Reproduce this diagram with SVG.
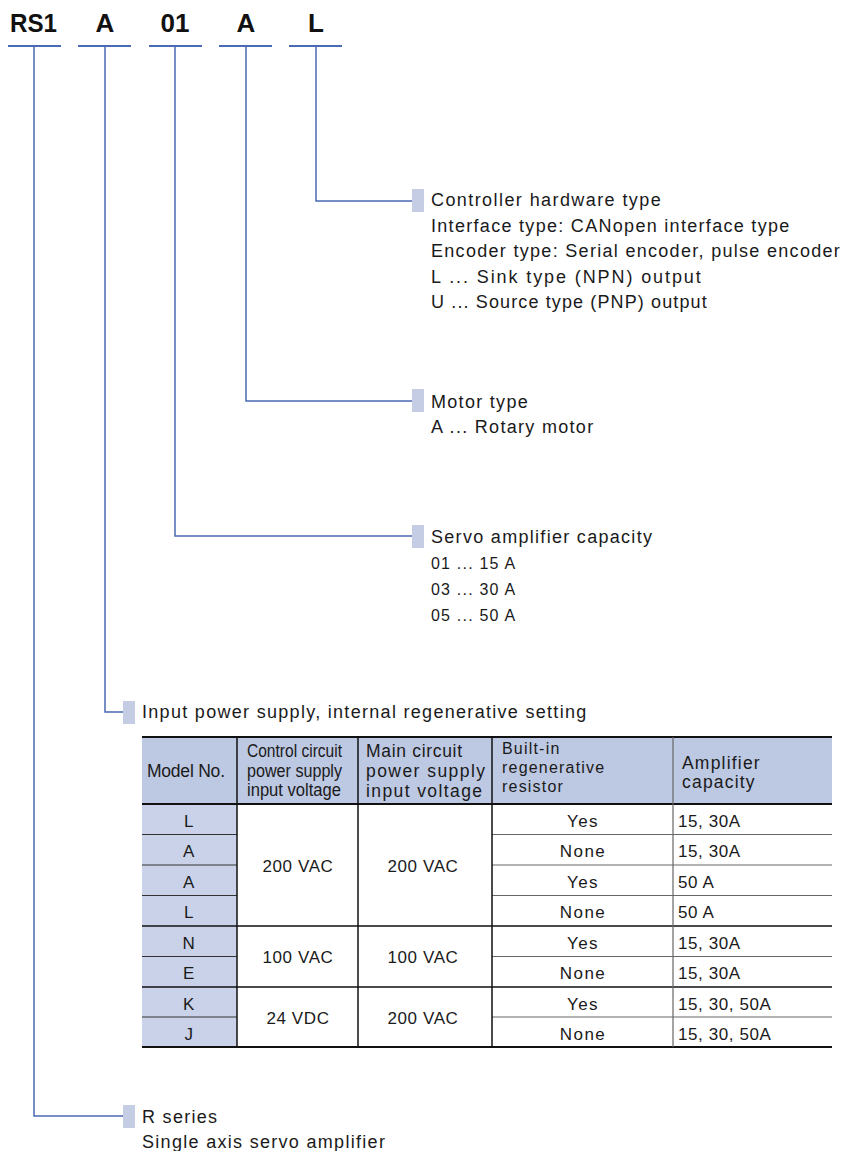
<svg xmlns="http://www.w3.org/2000/svg" width="843" height="1151" viewBox="0 0 843 1151">
<style>
.code{font-family:"Liberation Sans",Arial,sans-serif;font-weight:bold;font-size:26px;fill:#111;}
.t{font-family:"Liberation Sans",Arial,sans-serif;font-size:18px;fill:#1a1a1a;letter-spacing:1.3px;}
.n{font-family:"Liberation Sans",Arial,sans-serif;font-size:16px;fill:#1a1a1a;letter-spacing:1.2px;}
.h{font-family:"Liberation Sans",Arial,sans-serif;font-size:17.5px;fill:#1a1a1a;}
.hs{font-family:"Liberation Sans",Arial,sans-serif;font-size:16px;fill:#1a1a1a;letter-spacing:1.2px;}
.c{font-family:"Liberation Sans",Arial,sans-serif;font-size:17px;fill:#1a1a1a;letter-spacing:0.6px;}
.cm{text-anchor:middle;}
.ul{stroke:#4a6ab3;stroke-width:2;}
.con{fill:none;stroke:#4a6ab3;stroke-width:1.5;}
.sq{fill:#c4cde4;}
.hd{fill:#bdc8e2;}
.mc{fill:#c9d2e9;}
.bk{stroke:#111;stroke-width:1.5;}
.bk2{stroke:#111;stroke-width:2;}
.gr{stroke:#666;stroke-width:1.2;}
.dg{stroke:#333;stroke-width:1.2;}
</style>

<g id="code">
<text class="code" x="10" y="32" textLength="47" lengthAdjust="spacingAndGlyphs">RS1</text>
<text class="code cm" x="105" y="32">A</text>
<text class="code cm" x="175" y="32">01</text>
<text class="code cm" x="246" y="32">A</text>
<text class="code cm" x="316" y="32">L</text>
<line class="ul" x1="8" y1="46" x2="61" y2="46"/>
<line class="ul" x1="78" y1="46" x2="131" y2="46"/>
<line class="ul" x1="149" y1="46" x2="202" y2="46"/>
<line class="ul" x1="219" y1="46" x2="272" y2="46"/>
<line class="ul" x1="289" y1="46" x2="342" y2="46"/>
</g>

<g id="connectors">
<polyline class="con" points="316,46 316,201 412,201"/>
<polyline class="con" points="246,46 246,401 412,401"/>
<polyline class="con" points="175,46 175,536 412,536"/>
<polyline class="con" points="105,46 105,712 123,712"/>
<polyline class="con" points="34,46 34,1116 123,1116"/>
</g>

<g id="controller">
<rect class="sq" x="412" y="189" width="12" height="23"/>
<text class="t" x="431" y="206" textLength="231">Controller hardware type</text>
<text class="t" x="431" y="232">Interface type: CANopen interface type</text>
<text class="t" x="431" y="257">Encoder type: Serial encoder, pulse encoder</text>
<text class="t" x="431" y="283" textLength="271">L ... Sink type (NPN) output</text>
<text class="t" x="431" y="308" textLength="277">U ... Source type (PNP) output</text>
</g>

<g id="motor">
<rect class="sq" x="412" y="389" width="12" height="23"/>
<text class="t" x="431" y="408">Motor type</text>
<text class="t" x="431" y="433">A ... Rotary motor</text>
</g>

<g id="capacity">
<rect class="sq" x="412" y="525" width="12" height="23"/>
<text class="t" x="431" y="543">Servo amplifier capacity</text>
<text class="n" x="431" y="569">01 ... 15 A</text>
<text class="n" x="431" y="595">03 ... 30 A</text>
<text class="n" x="431" y="621">05 ... 50 A</text>
</g>

<g id="power">
<rect class="sq" x="123" y="701" width="12" height="23"/>
<text class="t" x="142" y="718">Input power supply, internal regenerative setting</text>
</g>

<g id="table">
<rect class="hd" x="142" y="737" width="690" height="67"/>
<rect class="mc" x="142" y="804" width="95" height="243"/>
<text class="h" x="147" y="777" textLength="78">Model No.</text>
<text class="h" x="247" y="757" textLength="95" lengthAdjust="spacingAndGlyphs">Control circuit</text>
<text class="h" x="247" y="777" textLength="95" lengthAdjust="spacingAndGlyphs">power supply</text>
<text class="h" x="247" y="796" textLength="94" lengthAdjust="spacingAndGlyphs">input voltage</text>
<text class="h" x="366" y="757" textLength="96">Main circuit</text>
<text class="h" x="366" y="777" textLength="119">power supply</text>
<text class="h" x="366" y="797" textLength="116">input voltage</text>
<text class="hs" x="502" y="754">Built-in</text>
<text class="hs" x="502" y="773">regenerative</text>
<text class="hs" x="502" y="792">resistor</text>
<text class="h" x="682" y="769" style="letter-spacing:1.2px">Amplifier</text>
<text class="h" x="682" y="788" style="letter-spacing:1.2px">capacity</text>
<text class="c cm" x="189" y="827">L</text>
<text class="c cm" x="189" y="857">A</text>
<text class="c cm" x="189" y="888">A</text>
<text class="c cm" x="189" y="918">L</text>
<text class="c cm" x="189" y="949">N</text>
<text class="c cm" x="189" y="979">E</text>
<text class="c cm" x="189" y="1010">K</text>
<text class="c cm" x="189" y="1040">J</text>
<text class="c cm" x="298" y="872">200 VAC</text>
<text class="c cm" x="423" y="872">200 VAC</text>
<text class="c cm" x="298" y="963">100 VAC</text>
<text class="c cm" x="423" y="963">100 VAC</text>
<text class="c cm" x="298" y="1024">24 VDC</text>
<text class="c cm" x="423" y="1024">200 VAC</text>
<text class="c cm" x="583" y="827" style="letter-spacing:1.5px">Yes</text>
<text class="c cm" x="583" y="857" style="letter-spacing:1.5px">None</text>
<text class="c cm" x="583" y="888" style="letter-spacing:1.5px">Yes</text>
<text class="c cm" x="583" y="918" style="letter-spacing:1.5px">None</text>
<text class="c cm" x="583" y="949" style="letter-spacing:1.5px">Yes</text>
<text class="c cm" x="583" y="979" style="letter-spacing:1.5px">None</text>
<text class="c cm" x="583" y="1010" style="letter-spacing:1.5px">Yes</text>
<text class="c cm" x="583" y="1040" style="letter-spacing:1.5px">None</text>
<text class="c" x="678" y="827">15, 30A</text>
<text class="c" x="678" y="857">15, 30A</text>
<text class="c" x="678" y="888">50 A</text>
<text class="c" x="678" y="918">50 A</text>
<text class="c" x="678" y="949">15, 30A</text>
<text class="c" x="678" y="979">15, 30A</text>
<text class="c" x="678" y="1010">15, 30, 50A</text>
<text class="c" x="678" y="1040">15, 30, 50A</text>
<line class="bk2" x1="142" y1="737" x2="832" y2="737"/>
<line class="bk2" x1="142" y1="804" x2="832" y2="804"/>
<line class="dg" x1="142" y1="834.5" x2="237" y2="834.5"/>
<line class="dg" x1="142" y1="865" x2="237" y2="865"/>
<line class="dg" x1="142" y1="895.5" x2="237" y2="895.5"/>
<line class="dg" x1="142" y1="956.5" x2="237" y2="956.5"/>
<line class="dg" x1="142" y1="1017" x2="237" y2="1017"/>
<line class="gr" x1="492" y1="834.5" x2="832" y2="834.5"/>
<line class="gr" x1="492" y1="865" x2="832" y2="865"/>
<line class="gr" x1="492" y1="895.5" x2="832" y2="895.5"/>
<line class="gr" x1="492" y1="956.5" x2="832" y2="956.5"/>
<line class="gr" x1="492" y1="1017" x2="832" y2="1017"/>
<line class="bk" x1="142" y1="926" x2="832" y2="926"/>
<line class="bk" x1="142" y1="987" x2="832" y2="987"/>
<line class="bk2" x1="142" y1="1047" x2="832" y2="1047"/>
<line class="bk" x1="237" y1="737" x2="237" y2="1047"/>
<line class="bk" x1="358" y1="737" x2="358" y2="1047"/>
<line class="bk" x1="492" y1="737" x2="492" y2="1047"/>
<line class="gr" x1="673" y1="737" x2="673" y2="1047"/>
</g>

<g id="series">
<rect class="sq" x="123" y="1105" width="12" height="23"/>
<text class="t" x="142" y="1123">R series</text>
<text class="t" x="142" y="1148">Single axis servo amplifier</text>
</g>
</svg>
